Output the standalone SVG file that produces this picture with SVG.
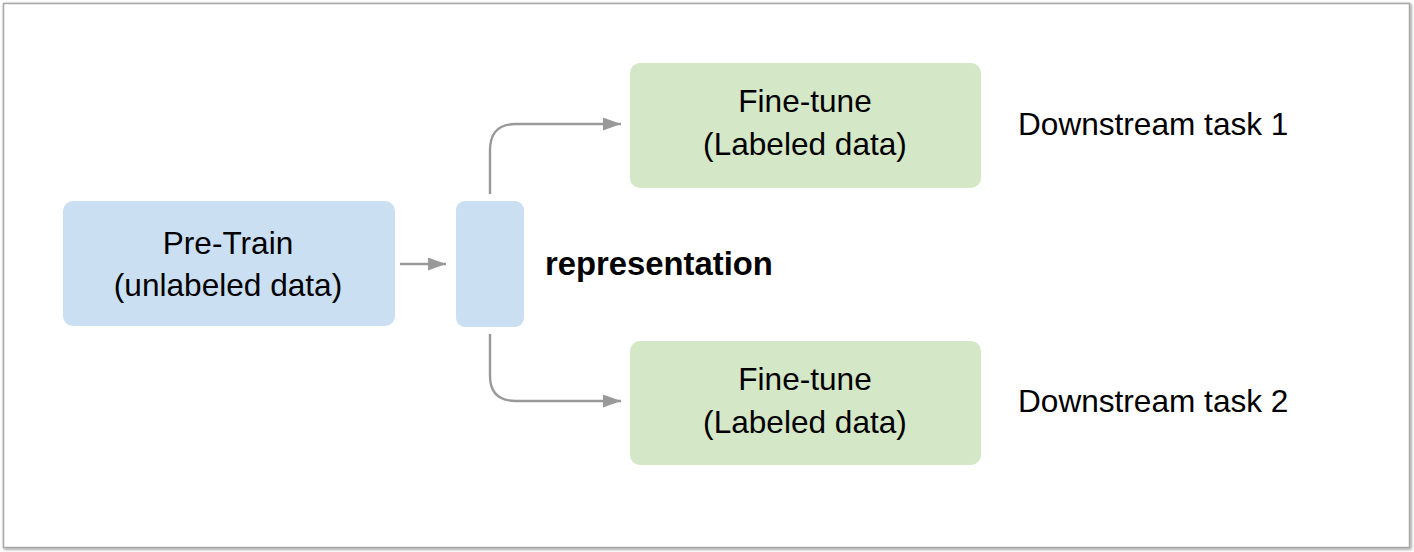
<svg xmlns="http://www.w3.org/2000/svg" width="1414" height="552" viewBox="0 0 1414 552">
<defs>
<filter id="sh" x="-5%" y="-5%" width="110%" height="110%">
<feGaussianBlur in="SourceAlpha" stdDeviation="1.5"/>
<feOffset dx="1" dy="1" result="b"/>
<feComponentTransfer><feFuncA type="linear" slope="0.5"/></feComponentTransfer>
<feMerge><feMergeNode/><feMergeNode in="SourceGraphic"/></feMerge>
</filter>
<marker id="ah" viewBox="0 0 10 10" refX="10" refY="5" markerWidth="18" markerHeight="13" markerUnits="userSpaceOnUse" orient="auto" preserveAspectRatio="none">
<path d="M0,0 L10,5 L0,10 Z" fill="#999999"/>
</marker>
<style>
.t{font-family:"Liberation Sans",Arial,Helvetica,sans-serif;font-size:31.6px;fill:#000000;}
.b{font-weight:bold;font-size:32.8px;}
.blue{fill:#cadff2;}
.green{fill:#d4e7c7;}
.c{fill:none;stroke:#999999;stroke-width:2.4;}
</style>
</defs>
<rect x="0" y="0" width="1414" height="552" fill="#ffffff"/>
<rect x="3.5" y="3.5" width="1406" height="544" fill="#ffffff" stroke="#a8a8a8" stroke-width="1.5" filter="url(#sh)"/>
<g id="connectors">
<path class="c" d="M400,264 L446,264" marker-end="url(#ah)"/>
<path class="c" d="M490,194 L490,150 Q490,124 516,124 L621,124" marker-end="url(#ah)"/>
<path class="c" d="M490,334 L490,376 Q490,401 516,401 L621,401" marker-end="url(#ah)"/>
</g>
<g id="pretrain">
<rect class="blue" x="63" y="201" width="332" height="125" rx="10"/>
<text class="t" x="228" y="254" text-anchor="middle">Pre-Train</text>
<text class="t" x="228" y="296" text-anchor="middle">(unlabeled data)</text>
</g>
<g id="representation">
<rect class="blue" x="456" y="201" width="68" height="126" rx="9"/>
<text class="t b" x="545" y="275">representation</text>
</g>
<g id="finetune1">
<rect class="green" x="630" y="63" width="351" height="125" rx="10"/>
<text class="t" x="805" y="112" text-anchor="middle">Fine-tune</text>
<text class="t" x="805" y="155" text-anchor="middle">(Labeled data)</text>
</g>
<g id="finetune2">
<rect class="green" x="630" y="341" width="351" height="124" rx="10"/>
<text class="t" x="805" y="390" text-anchor="middle">Fine-tune</text>
<text class="t" x="805" y="433" text-anchor="middle">(Labeled data)</text>
</g>
<g id="task1">
<text class="t" x="1018" y="135">Downstream task 1</text>
</g>
<g id="task2">
<text class="t" x="1018" y="412">Downstream task 2</text>
</g>
</svg>
